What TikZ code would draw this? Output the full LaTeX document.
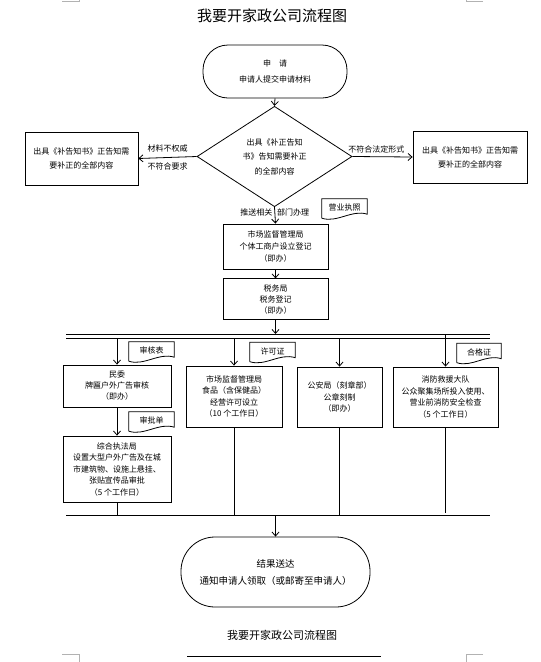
\documentclass[tikz,border=0pt]{standalone}
\usepackage{fontspec}
\usepackage{tikz}
\usetikzlibrary{arrows.meta,positioning,shapes.geometric}
\newfontfamily\cjk{Noto Sans CJK SC}
\tikzset{
	every node/.style={font=\cjk\fontsize{8}{11.5}\selectfont},
	box/.style={draw, line width=0.8pt, align=center, inner sep=0pt},
	terminal/.style={box, rounded corners=#1},
	decision/.style={draw, line width=0.8pt, diamond, align=center, inner sep=0pt, minimum width=155pt, minimum height=97pt},
	doctag/.style={inner sep=0pt, minimum width=45pt, minimum height=17pt},
	flow/.style={line width=0.8pt, -{Straight Barb[length=4pt,width=7pt]}},
	bus/.style={line width=0.8pt},
	crop/.style={gray!60, line width=0.6pt}
}
\newcommand{\drawdoctag}[1]{
	\draw[line width=0.8pt] ([yshift=-2pt]#1.south west) -- (#1.north west) -- (#1.north east) -- ([yshift=2pt]#1.south east)
		.. controls ([xshift=-15pt,yshift=7pt]#1.south east) and ([xshift=15pt,yshift=-7pt]#1.south west) .. ([yshift=-2pt]#1.south west);
}

\begin{document}
\begin{tikzpicture}[x=1pt, y=-1pt]
	\useasboundingbox (0,0) rectangle (541,662);

	% crop marks
	\draw[crop] (62,1) -- (79,1) -- (79,0);
	\draw[crop] (483,1) -- (466,1) -- (466,0);
	\draw[crop] (62,654) -- (79,654) -- (79,662);
	\draw[crop] (483,654) -- (466,654) -- (466,662);

	\node (title) at (272,16) [font=\cjk\fontsize{15}{18}\selectfont] {我要开家政公司流程图};

	% application and check
	\node[terminal=25pt, minimum width=144pt, minimum height=53pt, font=\cjk\fontsize{8}{16}\selectfont] (apply) at (275,71.5)
		{申\hspace{8pt}请\\申请人提交申请材料};
	\node[decision, font=\cjk\fontsize{8}{14.5}\selectfont] (check) at (274.5,156.5)
		{出具《补正告知\\书》告知需要补正\\的全部内容};
	\node[box, minimum width=113pt, minimum height=53pt, font=\cjk\fontsize{8}{14}\selectfont] (notice-left) at (81.5,158.5)
		{出具《补告知书》正告知需\\要补正的全部内容};
	\node[box, minimum width=114pt, minimum height=52pt, font=\cjk\fontsize{8}{14}\selectfont] (notice-right) at (470,157)
		{出具《补告知书》正告知需\\要补正的全部内容};

	\draw[flow] (apply.south) -- (check.north);
	\draw[flow] (check.west) -- node[above, inner sep=5pt]{材料不权威} node[below, inner sep=5pt]{不符合要求} (notice-left.east);
	\draw[flow] (check.east) -- node[above, pos=0.4, inner sep=3pt]{不符合法定形式} (notice-right.west);

	% registration boxes
	\node[box, minimum width=105pt, minimum height=45pt, font=\cjk\fontsize{8}{12}\selectfont] (market) at (275.5,246.5)
		{市场监督管理局\\个体工商户设立登记\\（即办）};
	\node[box, minimum width=105pt, minimum height=41pt, font=\cjk\fontsize{8}{11}\selectfont, below=9pt of market] (tax)
		{税务局\\税务登记\\（即办）};
	\node[doctag] (license) at (344.5,207.5) {营业执照};
	\drawdoctag{license}

	\draw[flow] (check.south) -- node[pos=0.3, left, inner sep=2pt]{推送相关} node[pos=0.3, right, inner sep=2pt]{部门办理} (market.north);
	\draw[flow] (market.south) -- (tax.north);

	% bus lines
	\coordinate (bus-top) at (66,334);
	\coordinate (bus-mid) at (66,338);
	\coordinate (bus-end) at (66,515);
	\draw[bus] (bus-top) -- ++(424,0);
	\draw[bus] (bus-mid) -- ++(424,0);
	\draw[bus] (bus-end) -- ++(424,0);
	\draw[flow] (tax.south) -- (tax.south |- bus-top);

	% parallel departments
	\node[box, minimum width=108pt, minimum height=42pt, font=\cjk\fontsize{8}{11}\selectfont] (ethnic) at (117,386)
		{民委\\牌匾户外广告审核\\（即办）};
	\node[box, minimum width=108pt, minimum height=66pt] (enforce) at (117,469)
		{综合执法局\\设置大型户外广告及在城\\市建筑物、设施上悬挂、\\张贴宣传品审批\\（5 个工作日）};
	\node[box, minimum width=96pt, minimum height=61pt] (food) at (234,396.5)
		{市场监督管理局\\食品（含保健品）\\经营许可设立\\（10 个工作日）};
	\node[box, minimum width=85pt, minimum height=60pt] (police) at (339.5,397)
		{公安局（刻章部）\\公章刻制\\（即办）};
	\node[box, minimum width=105pt, minimum height=60pt] (fire) at (445.5,397)
		{消防救援大队\\公众聚集场所投入使用、\\营业前消防安全检查\\（5 个工作日）};

	\node[doctag] (review-form) at (151.5,350.5) {审核表};
	\node[doctag] (permit) at (272.5,351) {许可证};
	\node[doctag, minimum width=44pt] (certificate) at (479,352) {合格证};
	\node[doctag] (approval) at (151.5,420.5) {审批单};
	\drawdoctag{review-form}
	\drawdoctag{permit}
	\drawdoctag{certificate}
	\drawdoctag{approval}

	\draw[flow] (ethnic.north |- bus-mid) -- (ethnic.north);
	\draw[flow] (food.north |- bus-mid) -- (food.north);
	\draw[flow] (police.north |- bus-mid) -- (police.north);
	\draw[flow] (fire.north |- bus-top) -- (fire.north);
	\draw[flow] (ethnic.south) -- (enforce.north);

	\draw[bus] (enforce.south) -- (enforce.south |- bus-end);
	\draw[bus] (food.south) -- (food.south |- bus-end);
	\draw[bus] (police.south) -- (police.south |- bus-end);
	\draw[bus, shorten >=2pt] (fire.south) -- (fire.south |- bus-end);

	% result
	\node[terminal=34pt, minimum width=189pt, minimum height=70pt, font=\cjk\fontsize{9.5}{17}\selectfont] (result) at (275.5,572)
		{结果送达\\通知申请人领取（或邮寄至申请人）};
	\draw[flow] (result.north |- bus-end) -- (result.north);

	\node (footer) at (282,635) [font=\cjk\fontsize{11}{13}\selectfont] {我要开家政公司流程图};
	\draw[bus] (187,656) -- (381,656);
\end{tikzpicture}
\end{document}
